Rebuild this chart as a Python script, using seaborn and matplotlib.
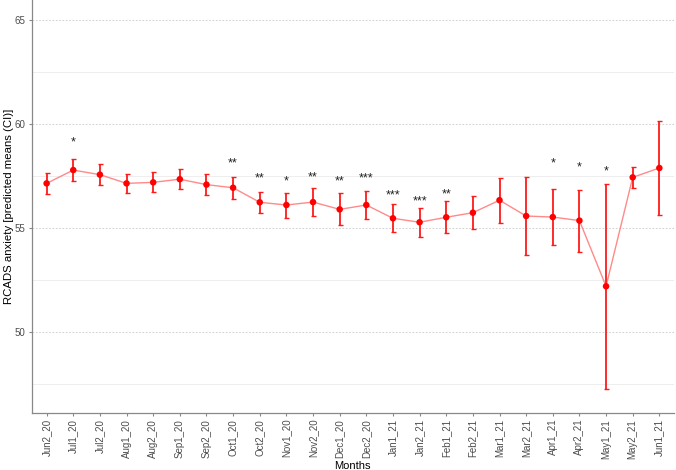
import matplotlib
matplotlib.use("Agg")
import matplotlib.pyplot as plt
import seaborn as sns
import pandas as pd
import numpy as np

months = ["Jun2_20", "Jul1_20", "Jul2_20", "Aug1_20", "Aug2_20", "Sep1_20", "Sep2_20",
          "Oct1_20", "Oct2_20", "Nov1_20", "Nov2_20", "Dec1_20", "Dec2_20", "Jan1_21",
          "Jan2_21", "Feb1_21", "Feb2_21", "Mar1_21", "Mar2_21", "Apr1_21", "Apr2_21",
          "May1_21", "May2_21", "Jun1_21"]
means = [57.16, 57.80, 57.58, 57.16, 57.21, 57.36, 57.10, 56.95, 56.25, 56.12, 56.26, 55.91,
         56.12, 55.48, 55.29, 55.53, 55.75, 56.35, 55.59, 55.54, 55.37, 52.21, 57.45, 57.90]
lower = [56.66, 57.29, 57.07, 56.68, 56.73, 56.88, 56.62, 56.42, 55.75, 55.51, 55.58, 55.14,
         55.43, 54.81, 54.60, 54.76, 54.95, 55.27, 53.72, 54.20, 53.86, 47.27, 56.95, 55.65]
upper = [57.67, 58.32, 58.08, 57.61, 57.69, 57.84, 57.60, 57.48, 56.76, 56.71, 56.95, 56.68,
         56.81, 56.15, 55.96, 56.30, 56.54, 57.40, 57.47, 56.87, 56.84, 57.13, 57.95, 60.16]
stars = ["", "*", "", "", "", "", "", "**", "**", "*", "**", "**", "***", "***", "***", "**",
         "", "", "", "*", "*", "*", "", ""]
star_y = [None, 59.12, None, None, None, None, None, 58.13, 57.42, 57.23, 57.44, 57.23, 57.42,
          56.60, 56.31, 56.62, None, None, None, 58.13, 57.91, 57.72, None, None]

df = pd.DataFrame({"month": months, "mean": means, "lower": lower, "upper": upper})

sns.set_theme(style="white")
plt.rcParams["font.family"] = ["Liberation Sans", "DejaVu Sans"]

fig = plt.figure(figsize=(6.76, 4.70), dpi=100)
ax = fig.add_axes([31.7 / 676, (470 - 412.7) / 470, (674 - 31.7) / 676, 412.7 / 470])

# grid
for g in [47.5, 52.5, 57.5, 62.5]:
    ax.axhline(g, color="#ebebeb", lw=0.6, zorder=0)
for g in [50, 55, 60, 65]:
    ax.axhline(g, color="#c8c8c8", lw=0.6, ls=(0, (2, 2)), zorder=0)

sns.lineplot(data=df, x="month", y="mean", sort=False, color="#ff8a8a", lw=1.0, ax=ax, zorder=2)
ax.errorbar(df["month"], df["mean"],
            yerr=[np.array(means) - np.array(lower), np.array(upper) - np.array(means)],
            fmt="none", ecolor="#ff1a1a", elinewidth=1.3, capsize=1.8, capthick=1.0, zorder=3)
sns.scatterplot(data=df, x="month", y="mean", color="#ff0000", s=22, edgecolor="none", ax=ax, zorder=4)

for m, s, y in zip(months, stars, star_y):
    if s:
        ax.text(m, y, s, ha="center", va="center", fontsize=9, color="#222222")

ax.set_xlim(-0.56, 23.55)
ax.set_ylim(46.13, 65.98)
ax.set_yticks([50, 55, 60, 65])
ax.set_yticklabels(["50", "55", "60", "65"])
ax.tick_params(axis="both", colors="#888888", labelcolor="#4d4d4d", labelsize=7, length=2.4, width=0.8,
               pad=2, direction="out", bottom=True, left=True)
ax.tick_params(axis="x", labelrotation=90)
for sp in ["top", "right"]:
    ax.spines[sp].set_visible(False)
for sp in ["left", "bottom"]:
    ax.spines[sp].set_color("#888888")
    ax.spines[sp].set_linewidth(0.9)
ax.set_xlabel("Months", fontsize=8, color="black", labelpad=1.5)
ax.set_ylabel("RCADS anxiety [predicted means (CI)]", fontsize=8.2, color="black", labelpad=0.8)

fig.savefig("out.png", dpi=100)
